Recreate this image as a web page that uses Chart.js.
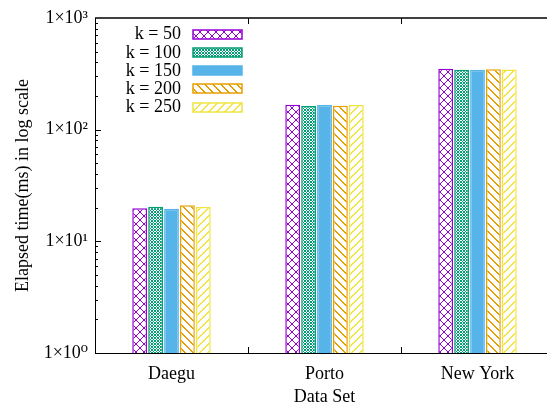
<!DOCTYPE html>
<html>
<head>
<meta charset="utf-8">
<script src="https://cdn.jsdelivr.net/npm/chart.js@4.4.1/dist/chart.umd.min.js"></script>
<style>
  html, body { margin: 0; padding: 0; background: #fff; overflow: hidden; }
  #caixa { width: 547px; height: 408px; overflow: hidden; }
</style>
</head>
<body>
<div id="caixa"><canvas id="grafico" width="556" height="408"></canvas></div>
<script>
const categorias = ['Daegu', 'Porto', 'New York'];
const rotulos = ['k = 50', 'k = 100', 'k = 150', 'k = 200', 'k = 250'];
const k50 = [19.8, 167, 351];
const k100 = [20.4, 163, 344];
const k150 = [19.6, 166, 344];
const k200 = [21.0, 164, 347];
const k250 = [20.3, 166, 346];
const cores = ['#9400d3', '#009e73', '#56b4e9', '#e69f00', '#f0e442'];
const padroes = ['cruzado', 'xadrez', 'solido', 'contra', 'barra'];
const decadas = [1, 10, 100, 1000];

const fonte = '"Liberation Serif", "DejaVu Serif", serif';
const sobrescritos = ['\u2070', '\u00b9', '\u00b2', '\u00b3'];

function criarPadrao(tipo, cor) {
  if (tipo === 'solido') return cor;
  const c = document.createElement('canvas');
  const t = tipo === 'xadrez' ? 3 : 8;
  c.width = t;
  c.height = t;
  const g = c.getContext('2d');
  g.fillStyle = '#fff';
  g.fillRect(0, 0, t, t);
  g.fillStyle = cor;
  for (let i = 0; i < t; i++) {
    if (tipo === 'cruzado') {
      g.fillRect(i, i, 1, 1);
      g.fillRect(t - 1 - i, i, 1, 1);
    } else if (tipo === 'xadrez') {
      for (let j = 0; j < t; j++) {
        if ((i + j) % 3 === 0 || (i - j + 3) % 3 === 0) g.fillRect(i, j, 1, 1);
      }
    } else if (tipo === 'contra') {
      g.fillRect(i, i, 1, 1);
      g.fillRect((i + 1) % t, i, 1, 1);
    } else if (tipo === 'barra') {
      g.fillRect(t - 1 - i, i, 1, 1);
      g.fillRect((t - i) % t, i, 1, 1);
    }
  }
  return g.createPattern(c, 'repeat');
}

const series = [k50, k100, k150, k200, k250];
const datasets = series.map((valores, i) => ({
  label: rotulos[i],
  data: valores,
  backgroundColor: criarPadrao(padroes[i], cores[i]),
  borderColor: cores[i],
  borderWidth: 1.5,
  categoryPercentage: 0.52,
  barPercentage: 0.93
}));

// ticks para dentro, borda de cima e legenda dentro do grafico
const molduraPlugin = {
  id: 'moldura',
  afterDatasetsDraw(chart) {
    const ctx = chart.ctx;
    const area = chart.chartArea;
    const y = chart.scales.y;
    const x = chart.scales.x;
    ctx.save();
    ctx.strokeStyle = '#000';

    ctx.beginPath();
    ctx.lineWidth = 1.5;
    ctx.moveTo(area.left, area.top);
    ctx.lineTo(area.right, area.top);
    ctx.stroke();

    ctx.lineWidth = 1;
    ctx.beginPath();
    for (let e = 0; e < 3; e++) {
      for (let m = 1; m <= 9; m++) {
        const py = Math.round(y.getPixelForValue(m * Math.pow(10, e))) + 0.5;
        const len = m === 1 ? 6 : 3;
        ctx.moveTo(area.left, py);
        ctx.lineTo(area.left + len, py);
      }
    }
    for (let i = 0; i < categorias.length - 1; i++) {
      const px = Math.round((x.getPixelForValue(i) + x.getPixelForValue(i + 1)) / 2) + 0.5;
      ctx.moveTo(px, area.bottom);
      ctx.lineTo(px, area.bottom - 6);
      ctx.moveTo(px, area.top);
      ctx.lineTo(px, area.top + 6);
    }
    ctx.stroke();

    // legenda
    ctx.font = '18px ' + fonte;
    ctx.textAlign = 'right';
    ctx.textBaseline = 'middle';
    chart.data.datasets.forEach((ds, i) => {
      const ly = 33.5 + i * 18.3;
      ctx.fillStyle = '#000';
      ctx.fillText(ds.label, 181, ly + 1);
      ctx.fillStyle = ds.backgroundColor;
      ctx.fillRect(193, Math.round(ly) - 4, 49, 9);
      ctx.strokeStyle = ds.borderColor;
      ctx.lineWidth = 1.5;
      ctx.strokeRect(193, Math.round(ly) - 4, 49, 9);
    });
    ctx.restore();
  }
};

const ctx = document.getElementById('grafico').getContext('2d');
const grafico = new Chart(ctx, {
  type: 'bar',
  data: { labels: categorias, datasets: datasets },
  plugins: [molduraPlugin],
  options: {
    responsive: false,
    animation: false,
    devicePixelRatio: 1,
    layout: { padding: { top: 18, right: 2, left: 0, bottom: 0 } },
    plugins: { legend: { display: false }, tooltip: { enabled: false } },
    scales: {
      x: {
        grid: { display: false, drawTicks: false },
        border: { display: true, color: '#000', width: 1 },
        ticks: { color: '#000', font: { family: fonte, size: 18 }, padding: 10 },
        title: { display: true, text: 'Data Set', color: '#000', font: { family: fonte, size: 18 }, padding: { top: 0, bottom: 0 } },
        afterFit(scale) { scale.height = 55; }
      },
      y: {
        type: 'logarithmic',
        min: 1,
        max: 1000,
        grid: { display: false, drawTicks: false },
        border: { display: true, color: '#000', width: 1 },
        afterBuildTicks(scale) { scale.ticks = decadas.map(v => ({ value: v })); },
        ticks: {
          autoSkip: false,
          color: '#000',
          font: { family: fonte, size: 18 },
          padding: 7,
          callback: function(v) {
            const e = Math.round(Math.log10(v));
            return '1\u00d710' + sobrescritos[e];
          }
        },
        title: { display: true, text: 'Elapsed time(ms) in log scale', color: '#000', font: { family: fonte, size: 18 }, padding: { top: 12, bottom: 0 } },
        afterFit(scale) { scale.width = 95; }
      }
    }
  }
});
</script>
</body>
</html>
